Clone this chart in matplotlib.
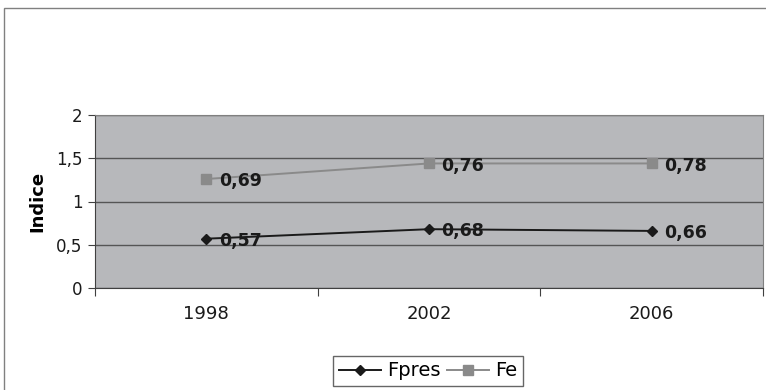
import matplotlib.pyplot as plt
from matplotlib.patches import Rectangle
import numpy as np

anni = ['1998', '2002', '2006']
fpres = [0.57, 0.68, 0.66]
fe = [0.69, 0.76, 0.78]

# linee sovrapposte: Fe si somma a Fpres
fe_cum = np.array(fpres) + np.array(fe)

fig = plt.figure(figsize=(7.66, 3.90), dpi=100)
fig.patch.set_facecolor('white')

# cornice esterna del grafico
fig.patches.append(Rectangle((4 / 766, -0.1), 1.2, 1 - 8 / 390 + 0.1,
                             transform=fig.transFigure, fill=False,
                             edgecolor='#808080', linewidth=1.0))

ax = fig.add_axes([95 / 766, 1 - 288 / 390, 668 / 766, 173 / 390])
ax.set_facecolor('#b7b8bb')

x = np.arange(len(anni)) + 0.5
l1, = ax.plot(x, fpres, color='#1a1a1a', lw=1.4, marker='D', ms=5.5,
              label='Fpres')
l2, = ax.plot(x, fe_cum, color='#8a8a8a', lw=1.4, marker='s', ms=6.5,
              label='Fe')

for xi, yi, v in zip(x, fpres, fpres):
    ax.annotate(('%.2f' % v).replace('.', ','), (xi, yi), xytext=(9, -1.5),
                textcoords='offset points', va='center', ha='left',
                fontsize=12.5, fontweight='bold', color='#1a1a1a')
for xi, yi, v in zip(x, fe_cum, fe):
    ax.annotate(('%.2f' % v).replace('.', ','), (xi, yi), xytext=(9, -1.5),
                textcoords='offset points', va='center', ha='left',
                fontsize=12.5, fontweight='bold', color='#1a1a1a')

ax.set_xlim(0, 3)
ax.set_ylim(0, 2)
ax.set_yticks([0, 0.5, 1, 1.5, 2])
ax.set_yticklabels(['0', '0,5', '1', '1,5', '2'])
ax.set_xticks([0, 1, 2, 3])
ax.set_xticklabels([])
ax.set_xticks(x, minor=True)
ax.set_xticklabels(anni, minor=True)
ax.tick_params(axis='x', which='minor', length=0, pad=12, labelsize=13,
               colors='#1a1a1a')
ax.tick_params(axis='x', which='major', length=6, direction='out',
               color='#404040')
ax.tick_params(axis='y', length=5, direction='out', color='#404040',
               labelsize=12, pad=4, labelcolor='#1a1a1a')

ax.grid(axis='y', color='#555555', lw=1.0)
ax.set_axisbelow(True)
for s in ['top', 'right']:
    ax.spines[s].set_color('#808080')
for s in ['left', 'bottom']:
    ax.spines[s].set_color('#404040')

ax.set_ylabel('Indice', fontsize=13, fontweight='bold', labelpad=7)

leg = fig.legend(handles=[l1, l2], loc='center', ncol=2,
                 bbox_to_anchor=(428 / 766, 1 - 371 / 390),
                 fontsize=14, frameon=True, fancybox=False,
                 handlelength=2.2, handletextpad=0.3, columnspacing=0.3,
                 borderpad=0.3, borderaxespad=0)
leg.get_frame().set_edgecolor('#404040')
leg.get_frame().set_linewidth(1.0)

fig.savefig('out.png', dpi=100)
